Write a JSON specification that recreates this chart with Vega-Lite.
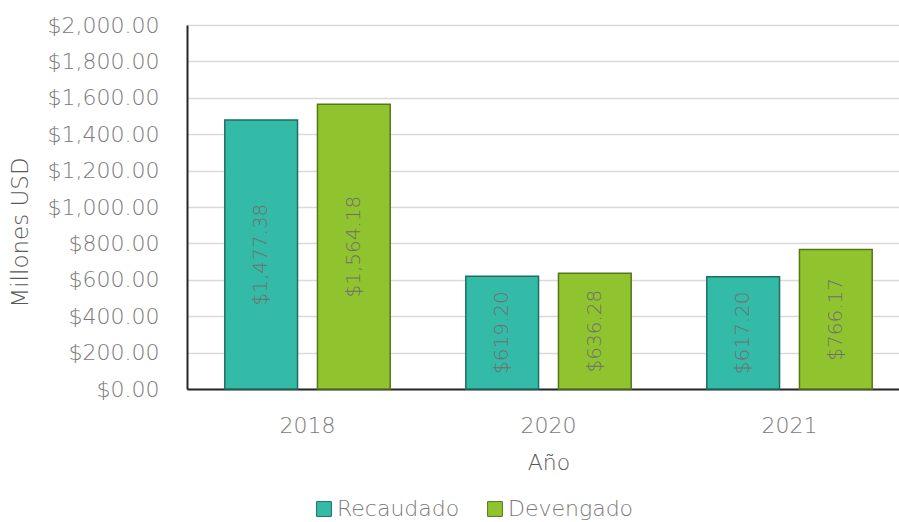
{
  "$schema": "https://vega.github.io/schema/vega-lite/v6.json",
  "autosize": {"type": "none"},
  "padding": {"left": 187, "top": 25, "right": 0, "bottom": 133},
  "width": 723,
  "height": 364,
  "background": "white",
  "config": {
    "font": "DejaVu Sans",
    "view": {"stroke": null},
    "axisY": {
      "labelOverlap": false, "ticks": false, "domainColor": "#262626", "domainWidth": 2,
      "gridColor": "#d9d9d9", "gridWidth": 1.5,
      "labelFont": "DejaVu Sans", "labelFontWeight": 200, "labelFontSize": 22, "labelColor": "#7a7a7a", "labelPadding": 28,
      "titleFont": "DejaVu Sans", "titleFontWeight": 300, "titleFontSize": 23, "titleColor": "#595959",
      "titleX": -167, "titleY": 207, "titleAngle": -90, "titleBaseline": "middle", "titleAlign": "center"
    }
  },
  "data": {
    "values": [
      {"year": "2018", "serie": "Recaudado", "value": 1477.38},
      {"year": "2018", "serie": "Devengado", "value": 1564.18},
      {"year": "2020", "serie": "Recaudado", "value": 619.20},
      {"year": "2020", "serie": "Devengado", "value": 636.28},
      {"year": "2021", "serie": "Recaudado", "value": 617.20},
      {"year": "2021", "serie": "Devengado", "value": 766.17}
    ]
  },
  "encoding": {
    "x": {
      "field": "year", "type": "nominal",
      "scale": {"paddingInner": 0, "paddingOuter": 0},
      "axis": {
        "title": "Año", "labelAngle": 0, "ticks": false,
        "domainColor": "#262626", "domainWidth": 2,
        "labelFont": "DejaVu Sans", "labelFontWeight": 200, "labelFontSize": 22, "labelColor": "#7a7a7a", "labelPadding": 26,
        "titleFont": "DejaVu Sans", "titleFontWeight": 300, "titleFontSize": 22, "titleColor": "#595959",
        "titleY": 73, "titleBaseline": "middle"
      }
    },
    "xOffset": {
      "field": "serie", "type": "nominal", "sort": ["Recaudado", "Devengado"],
      "scale": {"paddingInner": 0.215, "paddingOuter": 0.408}
    }
  },
  "layer": [
    {
      "mark": {"type": "bar", "strokeWidth": 1.5},
      "encoding": {
        "y": {
          "field": "value", "type": "quantitative",
          "scale": {"domain": [0, 2000], "nice": false},
          "axis": {"title": "Millones USD", "format": "$,.2f", "values": [0,200,400,600,800,1000,1200,1400,1600,1800,2000]}
        },
        "color": {
          "field": "serie", "type": "nominal", "sort": ["Recaudado", "Devengado"],
          "scale": {"domain": ["Recaudado", "Devengado"], "range": ["#33BBA8", "#8FC42E"]},
          "legend": {
            "title": null, "orient": "none", "direction": "horizontal",
            "legendX": 126, "legendY": 473,
            "symbolType": "square", "symbolSize": 220, "symbolStrokeColor": "#3a4a30", "symbolStrokeWidth": 1,
            "labelFont": "DejaVu Sans", "labelFontWeight": 200, "labelFontSize": 22, "labelColor": "#7a7a7a",
            "columnPadding": 24, "labelOffset": 2
          }
        },
        "stroke": {
          "field": "serie", "type": "nominal",
          "scale": {"domain": ["Recaudado", "Devengado"], "range": ["#1f6e63", "#56761b"]},
          "legend": null
        }
      }
    },
    {
      "transform": [{"calculate": "datum.value / 2", "as": "mid"}],
      "mark": {"type": "text", "angle": 270, "align": "center", "baseline": "middle", "fontSize": 20, "fontWeight": 200, "color": "#6f6f6f"},
      "encoding": {
        "y": {"field": "mid", "type": "quantitative", "axis": {"title": "Millones USD", "format": "$,.2f", "values": [0,200,400,600,800,1000,1200,1400,1600,1800,2000]}},
        "text": {"field": "value", "type": "quantitative", "format": "$,.2f"}
      }
    }
  ]
}
